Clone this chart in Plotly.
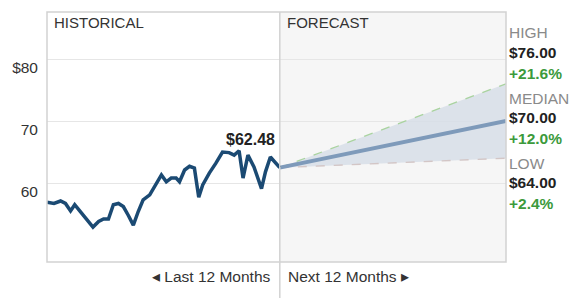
import plotly.graph_objects as go

# ---- data ----
hist_x = [-0.35, 0.02, 0.37, 0.63, 0.90, 1.12, 1.42, 1.77, 2.09, 2.39, 2.65, 2.91, 3.17, 3.44,
          3.70, 3.96, 4.23, 4.49, 4.75, 5.10, 5.45, 5.72, 5.98, 6.24, 6.50, 6.68, 6.95, 7.21,
          7.47, 7.70, 7.91, 8.26, 8.61, 8.96, 9.31, 9.58, 9.84, 10.05, 10.31, 10.63, 11.03,
          11.24, 11.50, 11.76, 12.0]
hist_y = [56.9, 56.7, 57.1, 56.7, 55.5, 56.5, 55.4, 54.0, 52.9, 53.8, 54.2, 54.2, 56.5, 56.7,
          56.2, 54.8, 53.2, 55.4, 57.3, 58.1, 60.0, 61.3, 60.2, 60.8, 60.8, 60.2, 62.1, 62.7,
          62.4, 57.7, 59.7, 61.6, 63.2, 65.0, 64.9, 64.5, 65.2, 60.8, 64.5, 62.6, 59.1,
          61.8, 64.2, 63.2, 62.48]
current = 62.48
forecast_x = [12, 24]
high_val, median_val, low_val = 76.00, 70.00, 64.00
y_ticks = [60, 70, 80]
y_tick_text = ["60", "70", "$80"]

X_RANGE = [-0.35, 24]
Y_RANGE = [47.26, 87.58]
DIVIDER = 12

FONT = "Liberation Sans, Arial, sans-serif"
fig = go.Figure()

# forecast band
fig.add_trace(go.Scatter(x=forecast_x, y=[current, low_val], mode="lines",
                         line=dict(color="#d3c6c6", width=1.3, dash="dash"),
                         hoverinfo="skip", showlegend=False))
fig.add_trace(go.Scatter(x=forecast_x, y=[current, high_val], mode="lines",
                         line=dict(color="#a9d39f", width=1.3, dash="dash"),
                         fill="tonexty", fillcolor="rgba(214,221,231,0.8)",
                         hoverinfo="skip", showlegend=False))
fig.add_trace(go.Scatter(x=forecast_x, y=[current, median_val], mode="lines",
                         line=dict(color="#7e9aba", width=4),
                         hoverinfo="skip", showlegend=False))
# historical
fig.add_trace(go.Scatter(x=hist_x, y=hist_y, mode="lines",
                         line=dict(color="#1b4a73", width=3.5),
                         hoverinfo="skip", showlegend=False))

shapes = [
    dict(type="rect", xref="x", yref="paper", x0=DIVIDER, x1=X_RANGE[1], y0=0, y1=1,
         fillcolor="#f6f6f6", line=dict(width=0), layer="below"),
    dict(type="rect", xref="paper", yref="paper", x0=0, x1=1, y0=0, y1=1,
         line=dict(color="#d2d2d2", width=1.5), layer="above"),
    dict(type="line", xref="x", yref="paper", x0=DIVIDER, x1=DIVIDER, y0=-0.15, y1=1,
         line=dict(color="#d2d2d2", width=1.5), layer="above"),
]

ann = [
    dict(text="HISTORICAL", xref="paper", yref="paper", x=0, y=0.96, xanchor="left",
         yanchor="middle", xshift=5, showarrow=False, font=dict(size=15, color="#333")),
    dict(text="FORECAST", xref="x", yref="paper", x=DIVIDER, y=0.96, xanchor="left",
         yanchor="middle", xshift=5, showarrow=False, font=dict(size=15, color="#333")),
    dict(text=f"<b>${current:.2f}</b>", xref="x", yref="y", x=DIVIDER, y=current,
         xanchor="right", yanchor="bottom", xshift=-3, yshift=18, showarrow=False,
         font=dict(size=16, color="#222")),
    dict(text="◂ Last 12 Months", xref="x", yref="paper", x=DIVIDER, y=-0.056,
         xanchor="right", yanchor="middle", xshift=-7, showarrow=False,
         font=dict(size=15.5, color="#333")),
    dict(text="Next 12 Months ▸", xref="x", yref="paper", x=DIVIDER, y=-0.056,
         xanchor="left", yanchor="middle", xshift=6, showarrow=False,
         font=dict(size=15.5, color="#333")),
]

side = [("HIGH", high_val, 0.916), ("MEDIAN", median_val, 0.656), ("LOW", low_val, 0.396)]
for name, val, ytop in side:
    pct = (val / current - 1) * 100
    for i, (txt, col) in enumerate([(name, "#8a8a8a"),
                                    (f"<b>${val:.2f}</b>", "#222222"),
                                    (f"<b>+{pct:.1f}%</b>", "#3c9a3c")]):
        ann.append(dict(text=txt, xref="paper", yref="paper", x=1, y=ytop - i * 0.08,
                        xanchor="left", yanchor="middle", xshift=1, showarrow=False,
                        font=dict(size=15.5, color=col)))

fig.update_layout(
    width=579, height=298,
    margin=dict(l=43, r=73, t=12, b=36),
    paper_bgcolor="white", plot_bgcolor="white",
    font=dict(family=FONT, color="#333"),
    shapes=shapes, annotations=ann,
    xaxis=dict(range=X_RANGE, showgrid=False, zeroline=False, showticklabels=False,
               ticks="", fixedrange=True),
    yaxis=dict(range=Y_RANGE, tickvals=y_ticks, ticktext=y_tick_text, showgrid=True,
               gridcolor="#e6e6e6", gridwidth=1.2, zeroline=False, ticks="",
               ticklabelshift=9, ticklabelstandoff=8,
               tickfont=dict(size=15.5, color="#333"), fixedrange=True),
)

fig.write_html("out.html")
